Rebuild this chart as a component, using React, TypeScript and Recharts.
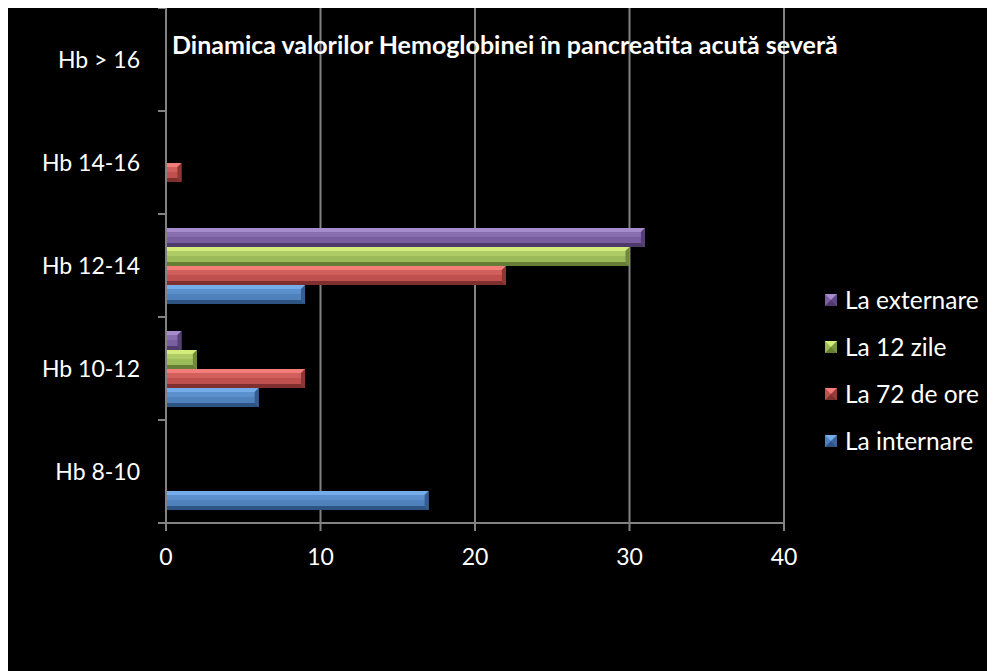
import React from 'react';
import { BarChart, Bar, XAxis, YAxis, CartesianGrid } from 'recharts';

// categories top -> bottom (as drawn)
const categories = ['Hb > 16', 'Hb 14-16', 'Hb 12-14', 'Hb 10-12', 'Hb 8-10'];
const laExternare = [0, 0, 31, 1, 0];
const la12Zile = [0, 0, 30, 2, 0];
const la72Ore = [0, 1, 22, 9, 0];
const laInternare = [0, 0, 9, 6, 17];
const xTicks = [0, 10, 20, 30, 40];

const series = [
  { key: 'externare', name: 'La externare', base: '#7a5fa0', light: '#a68ccb', dark: '#4e3a6b' },
  { key: 'zile12', name: 'La 12 zile', base: '#9bbb59', light: '#d3ec7c', dark: '#667d36' },
  { key: 'ore72', name: 'La 72 de ore', base: '#c0504d', light: '#f27d79', dark: '#7f2f2d' },
  { key: 'internare', name: 'La internare', base: '#4f81bd', light: '#75adeb', dark: '#2e5484' },
];

const data = categories.map((c, i) => ({
  cat: c,
  externare: laExternare[i],
  zile12: la12Zile[i],
  ore72: la72Ore[i],
  internare: laInternare[i],
}));

const GRAY = '#828282';
const TICK_MARGIN = 26;

const BevelBar = (props: any) => {
  const { x, y, width, height, colors } = props;
  if (!width || width <= 0) return null;
  const b = Math.min(4, width / 2, height / 2);
  const r = x + width;
  const bt = y + height;
  return (
    <g>
      <rect x={x} y={y} width={width} height={height} fill={colors.base} />
      <rect x={x} y={y + b} width={width - b} height={(height - 2 * b) * 0.45} fill={colors.light} opacity={0.35} />
      <polygon points={`${x},${y} ${r},${y} ${r - b},${y + b} ${x},${y + b}`} fill={colors.light} />
      <polygon points={`${x},${bt} ${r},${bt} ${r - b},${bt - b} ${x},${bt - b}`} fill={colors.dark} />
      <polygon points={`${r},${y} ${r},${bt} ${r - b},${bt - b} ${r - b},${y + b}`} fill={colors.dark} opacity={0.8} />
    </g>
  );
};

// category label + tick marks on the band boundaries (Excel style)
const CatTick = (props: any) => {
  const { x, y, payload, index } = props;
  const half = payload && payload.offset ? payload.offset : 0;
  const ax = x + TICK_MARGIN;
  return (
    <g>
      <line x1={ax - 8} x2={ax} y1={y + half} y2={y + half} stroke={GRAY} strokeWidth={2} />
      {index === 0 && <line x1={ax - 8} x2={ax} y1={y - half} y2={y - half} stroke={GRAY} strokeWidth={2} />}
      <text x={x} y={y} dy="0.355em" textAnchor="end" fill="#fff" fontSize={23}>
        {payload.value}
      </text>
    </g>
  );
};

const LegendIcon = ({ c }: { c: any }) => (
  <svg width={12} height={12} style={{ display: 'block' }}>
    <rect x={0} y={0} width={12} height={12} fill={c.base} />
    <polygon points="0,0 12,0 6,6" fill={c.light} />
    <polygon points="0,12 12,12 6,6" fill={c.dark} />
    <polygon points="12,0 12,12 6,6" fill={c.dark} opacity={0.6} />
  </svg>
);

export default function App() {
  return (
    <div style={{ position: 'relative', width: 987, height: 663, background: '#000', fontFamily: 'Lato, sans-serif' }}>
      <BarChart
        width={987}
        height={663}
        data={data}
        layout="vertical"
        margin={{ top: 0, right: 211, bottom: 108, left: 8 }}
        barCategoryGap="13.6%"
        barGap={0}
      >
        <CartesianGrid horizontal={false} stroke={GRAY} strokeWidth={2} />
        <XAxis
          type="number"
          domain={[0, 40]}
          ticks={xTicks}
          stroke={GRAY}
          strokeWidth={2}
          tickSize={8}
          tickMargin={18}
          height={40}
          tick={{ fill: '#fff', fontSize: 23 }}
        />
        <YAxis
          type="category"
          dataKey="cat"
          stroke={GRAY}
          strokeWidth={2}
          tickLine={false}
          tickSize={0}
          tickMargin={TICK_MARGIN}
          width={150}
          tick={<CatTick />}
        />
        {series.map(s => (
          <Bar
            key={s.key}
            dataKey={s.key}
            name={s.name}
            fill={s.base}
            isAnimationActive={false}
            shape={(p: any) => <BevelBar {...p} colors={s} />}
          />
        ))}
      </BarChart>

      <div
        style={{
          position: 'absolute',
          left: 164,
          top: 21,
          color: '#fff',
          fontWeight: 700,
          fontSize: 25,
          whiteSpace: 'nowrap',
        }}
      >
        Dinamica valorilor Hemoglobinei în pancreatita acută severă
      </div>

      <div style={{ position: 'absolute', left: 817, top: 268 }}>
        {series.map(s => (
          <div key={s.key} style={{ display: 'flex', alignItems: 'center', height: 47, color: '#fff', fontSize: 24.5 }}>
            <LegendIcon c={s} />
            <span style={{ marginLeft: 8 }}>{s.name}</span>
          </div>
        ))}
      </div>
    </div>
  );
}
